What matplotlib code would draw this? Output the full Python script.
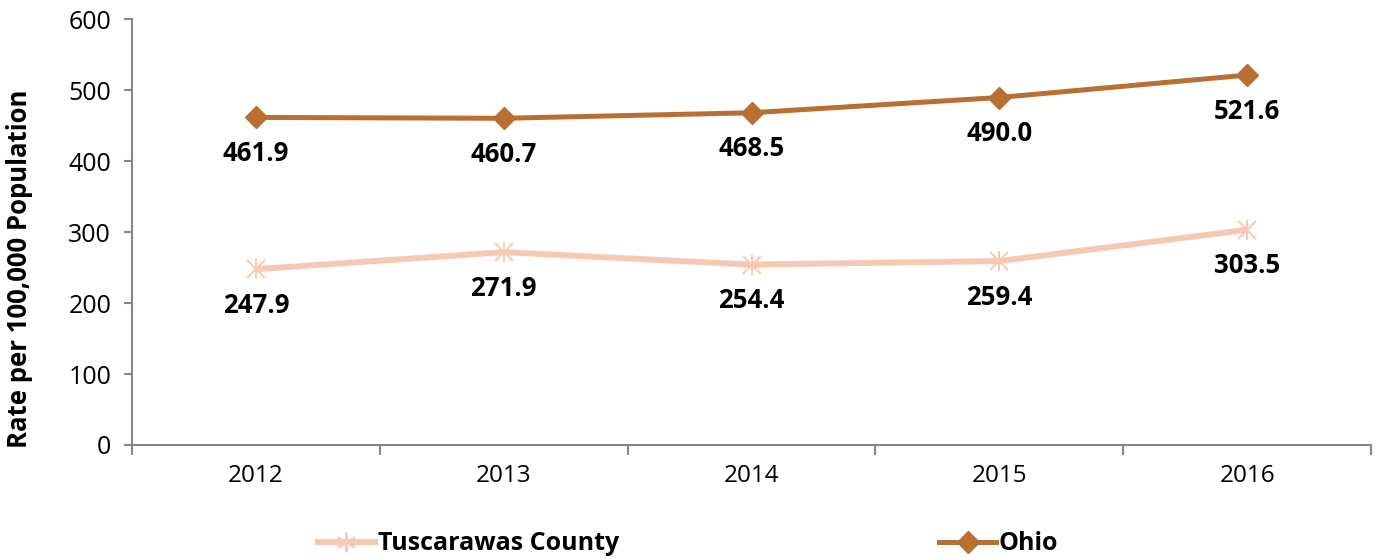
import matplotlib
matplotlib.use("Agg")
import matplotlib.pyplot as plt
from matplotlib.lines import Line2D

years = ["2012", "2013", "2014", "2015", "2016"]
tuscarawas = [247.9, 271.9, 254.4, 259.4, 303.5]
ohio = [461.9, 460.7, 468.5, 490.0, 521.6]
tusc_labels = ["247.9", "271.9", "254.4", "259.4", "303.5"]
ohio_labels = ["461.9", "460.7", "468.5", "490.0", "521.6"]

plt.rcParams['font.family'] = ['Open Sans', 'DejaVu Sans']

c_ohio = '#B96F32'
c_tusc = '#F7C9B3'
axis_c = '#868686'

fig = plt.figure(figsize=(13.76, 5.59), dpi=100)
ax = fig.add_axes([132/1376, 1-445/559, (1371-132)/1376, (445-19.5)/559])

x = list(range(len(years)))
ax.plot(x, tuscarawas, color=c_tusc, lw=4.3, zorder=3, solid_capstyle='butt')
ax.plot(x, tuscarawas, ls='none', marker='x', ms=13, mew=1.4, color=c_tusc, zorder=4)
ax.plot(x, tuscarawas, ls='none', marker='|', ms=14.5, mew=1.4, color=c_tusc, zorder=4)
ax.plot(x, ohio, color=c_ohio, lw=3.6, marker='D', ms=11, zorder=5)

for xi, v, s in zip(x, ohio, ohio_labels):
    ax.annotate(s, (xi, v), xytext=(0, -26), textcoords='offset points',
                ha='center', va='center', fontsize=18.5, fontweight='bold', color='black')
for xi, v, s in zip(x, tuscarawas, tusc_labels):
    ax.annotate(s, (xi, v), xytext=(0, -26), textcoords='offset points',
                ha='center', va='center', fontsize=18.5, fontweight='bold', color='black')

ax.set_xlim(-0.5, len(years) - 0.5)
ax.set_ylim(0, 600)
ax.set_yticks([0, 100, 200, 300, 400, 500, 600])
ax.set_xticks(x)
ax.set_xticklabels(years)
ax.set_xticks([i - 0.5 for i in range(len(years) + 1)], minor=True)
ax.tick_params(axis='x', which='major', length=0, pad=14, labelsize=17.5, colors='black')
ax.tick_params(axis='x', which='minor', length=7, width=1.5, color=axis_c, direction='out')
ax.tick_params(axis='y', length=6, width=1.5, color=axis_c, labelsize=18, labelcolor='black', pad=9)

for s in ['top', 'right']:
    ax.spines[s].set_visible(False)
for s in ['left', 'bottom']:
    ax.spines[s].set_color(axis_c)
    ax.spines[s].set_linewidth(1.5)

fig.text(20/1376, 1-268.5/559, "Rate per 100,000 Population", rotation=90,
         ha='center', va='center', fontsize=18.5, fontweight='bold')

h_tusc = Line2D([], [], color=c_tusc, lw=4.3, marker=(6, 2, 0), ms=14, mew=1.4, mec=c_tusc)
h_ohio = Line2D([], [], color=c_ohio, lw=3.6, marker='D', ms=11)
leg = fig.legend([h_tusc, h_ohio], ["Tuscarawas County", "Ohio"], loc='center',
                 bbox_to_anchor=(688/1376, 1-544/559), ncol=2, frameon=False,
                 prop={'family': ['Open Sans', 'DejaVu Sans'], 'weight': 'bold', 'size': 18},
                 handlelength=2.3, handletextpad=0.1, columnspacing=12.8)

fig.savefig("out.png", dpi=100)
